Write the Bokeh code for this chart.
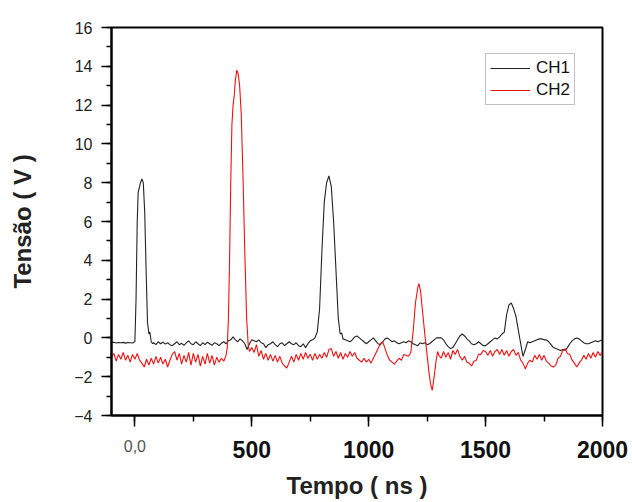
from bokeh.plotting import figure
from bokeh.models import SingleIntervalTicker, Range1d, Legend, LegendItem, LinearAxis
from bokeh.embed import file_html
from bokeh.resources import INLINE

# ---- data ----
ch1_t = [-100, -90, -80, -70, -60, -50, -40, -30, -20, -10,
         0, 5, 10, 14, 18, 24, 30, 36, 42, 48,
         54, 60, 64, 70, 76,
         80, 90, 100, 110, 120, 130, 140, 150, 160, 170,
         180, 190, 200, 210, 220, 230, 240, 250, 260, 270,
         280, 290, 300, 310, 320, 330, 340, 350, 360, 370,
         380, 390, 400, 410, 420, 430, 440, 450, 460, 470,
         480, 490, 500, 510, 520, 530, 540, 550, 560, 570,
         580, 590, 600, 610, 620, 630, 640, 650, 660, 670,
         680, 690, 700, 710, 720, 730, 740, 750, 760, 770,
         780, 790, 800, 810, 820, 830, 840, 850, 860, 870,
         878, 885, 890,
         900, 910, 920, 930, 940, 950, 960, 970, 980, 990,
         1000, 1010, 1020, 1030, 1040, 1050, 1060, 1070, 1080, 1090,
         1100, 1110, 1120, 1130, 1140, 1150, 1160, 1170, 1180, 1190,
         1200, 1210, 1220, 1230, 1240, 1250, 1260, 1270, 1280, 1290,
         1300, 1310, 1320, 1330, 1340, 1350, 1360, 1370, 1380, 1390,
         1400, 1410, 1420, 1430, 1440, 1450, 1460, 1470, 1480, 1490,
         1500, 1510, 1520, 1530, 1540, 1550, 1560, 1570, 1580, 1590,
         1600, 1610, 1620, 1630, 1640, 1650, 1660, 1670, 1680, 1690,
         1700, 1710, 1720, 1730, 1740, 1750, 1760, 1770, 1780, 1790,
         1800, 1810, 1820, 1830, 1840, 1850, 1860, 1870, 1880, 1890,
         1900, 1910, 1920, 1930, 1940, 1950, 1960, 1970, 1980, 1990,
         2000]
ch1_v = [-0.25, -0.22, -0.26, -0.24, -0.25, -0.23, -0.27, -0.24, -0.25, -0.26,
         -0.2, 2.0, 6.0, 7.5, 7.7, 8.0, 8.2, 8.0, 6.5, 3.5,
         0.8, 0.2, 0.3, -0.2, -0.3,
         -0.25, -0.35, -0.2, -0.3, -0.22, -0.32, -0.25, -0.35, -0.4, -0.3,
         -0.2, -0.35, -0.28, -0.38, -0.25, -0.15, -0.3, -0.35, -0.2, -0.3,
         -0.4, -0.25, -0.35, -0.22, -0.3, -0.38, -0.25, -0.3, -0.4, -0.28,
         -0.2, -0.3, -0.15, -0.1, 0.05, -0.1, -0.2, -0.05, -0.15, -0.3,
         -0.6, -0.3, -0.1, -0.15, -0.2, -0.1, -0.25, -0.3, -0.5, -0.35,
         -0.3, -0.2, -0.35, -0.45, -0.3, -0.25, -0.4, -0.3, -0.2, -0.3,
         -0.35, -0.25, -0.4, -0.45, -0.3, -0.5, -0.3, -0.15, -0.1, 0.0,
         0.3, 1.5, 4.5, 7.0, 8.0, 8.35, 7.8, 6.0, 3.5, 1.0,
         0.2, 0.25, -0.05,
         -0.1, -0.15, -0.2, -0.1, 0.05, 0.1, 0.0, -0.1, -0.2, -0.3,
         -0.2, -0.1, 0.0, -0.15, -0.3, -0.35, -0.2, -0.05, 0.0, -0.1,
         -0.2, -0.15, -0.25, -0.3, -0.25, -0.2, -0.25, -0.15, -0.2, -0.3,
         -0.35, -0.4, -0.25, -0.3, -0.25, -0.35, -0.3, -0.2, -0.1, 0.0,
         0.0, 0.0, -0.1, -0.3, -0.45, -0.55, -0.5, -0.3, -0.1, 0.1,
         0.2, 0.1, -0.05, -0.15, -0.3, -0.35, -0.3, -0.2, -0.3, -0.4,
         -0.4, -0.3, -0.2, -0.1, 0.0, -0.05, 0.05, 0.2, 0.3, 1.2,
         1.7, 1.8, 1.5, 1.1, 0.4, -0.3, -0.95, -0.6, -0.2, -0.25,
         -0.2, -0.15, -0.1, -0.05, -0.05, -0.1, -0.1, -0.2, -0.35, -0.5,
         -0.55, -0.6, -0.65, -0.6, -0.65, -0.5, -0.3, -0.15, -0.05, 0.0,
         -0.05, -0.15, -0.25, -0.3, -0.3, -0.25, -0.2, -0.15, -0.2, -0.15,
         -0.1]

ch2_t = [-100, -90, -80, -70, -60, -50, -40, -30, -20, -10,
         0, 10, 20, 30, 40, 50, 60, 70, 80, 90,
         100, 110, 120, 130, 140, 150, 160, 170, 180, 190,
         200, 210, 220, 230, 240, 250, 260, 270, 280, 290,
         300, 310, 320, 330, 340, 350, 360, 370, 380, 390,
         395, 400, 405, 410, 415, 420, 425, 430, 436, 442,
         448, 455, 462, 470, 478, 485, 490,
         500, 510, 520, 530, 540, 550, 560, 570, 580, 590,
         600, 610, 620, 630, 640, 650, 660, 670, 680, 690,
         700, 710, 720, 730, 740, 750, 760, 770, 780, 790,
         800, 810, 820, 830, 840, 850, 860, 870, 880, 890,
         900, 910, 920, 930, 940, 950, 960, 970, 980, 990,
         1000, 1010, 1020, 1030, 1040, 1050, 1060, 1070, 1080, 1090,
         1100, 1110, 1120, 1130, 1140, 1150, 1160, 1170, 1180, 1190,
         1200, 1210, 1215, 1222, 1230, 1240, 1250, 1258, 1265, 1272,
         1280, 1288, 1295,
         1300, 1310, 1320, 1330, 1340, 1350, 1360, 1370, 1380, 1390,
         1400, 1410, 1420, 1430, 1440, 1450, 1460, 1470, 1480, 1490,
         1500, 1510, 1520, 1530, 1540, 1550, 1560, 1570, 1580, 1590,
         1600, 1610, 1620, 1630, 1640, 1650, 1660, 1670, 1680, 1690,
         1700, 1710, 1720, 1730, 1740, 1750, 1760, 1770, 1780, 1790,
         1800, 1810, 1820, 1830, 1840, 1850, 1860, 1870, 1880, 1890,
         1900, 1910, 1920, 1930, 1940, 1950, 1960, 1970, 1980, 1990,
         2000]
ch2_v = [-1.0, -0.8, -1.2, -0.85, -1.1, -0.75, -1.15, -0.9, -1.25, -0.85,
         -1.1, -0.8, -1.15, -1.3, -1.5, -1.1, -1.4, -1.05, -1.35, -0.95,
         -1.3, -1.0, -1.35, -1.1, -1.5, -1.15, -0.85, -0.7, -1.15, -0.8,
         -1.35, -0.9, -1.25, -0.75, -1.4, -0.8, -1.25, -0.85, -1.45, -0.95,
         -1.35, -0.8, -1.3, -0.9, -1.4, -1.0, -1.25, -1.05, -1.2, -0.9,
         -0.5, 1.0, 4.0, 8.0, 11.0, 12.0, 12.5, 13.3, 13.8, 13.6,
         13.0, 11.5, 8.5, 4.5, 1.0, -0.4, -0.7,
         -0.5, -0.75, -0.35, -0.95, -0.65, -1.1, -0.8, -1.15, -0.85, -1.2,
         -0.9, -1.25, -0.95, -1.3, -1.45, -1.55, -1.25, -0.95, -1.25, -0.85,
         -1.15, -0.8, -1.1, -0.75, -1.05, -0.85, -1.15, -0.8, -1.1, -0.85,
         -1.05, -0.75, -1.0, -0.6, -0.55, -0.95, -0.7, -1.05, -0.75, -1.1,
         -0.8, -1.0, -0.7, -0.95, -0.75, -1.05, -1.15, -1.25, -1.05, -1.25,
         -1.1, -1.3, -1.05, -0.8, -0.55, -0.3, -0.2, -0.55, -0.9, -1.15,
         -1.25, -1.35, -1.2, -1.05, -1.15, -0.85, -0.9, -0.95, -0.75, 0.3,
         1.8, 2.6, 2.8, 2.4, 1.4, 0.2, -0.9, -1.8, -2.4, -2.7,
         -2.0, -1.2, -0.7,
         -0.9, -1.05, -0.7, -1.0, -0.75, -1.1, -0.65, -0.85, -0.6, -0.95,
         -1.15, -0.95, -1.25, -1.3, -1.45, -1.2, -1.15, -0.85, -0.85, -0.65,
         -0.7, -0.9, -0.65, -0.95, -0.7, -0.6, -0.85, -0.6, -0.9, -0.65,
         -0.95, -0.7, -0.6, -0.9, -0.75, -1.15, -1.3, -1.6, -1.3, -1.15,
         -1.25, -0.9, -1.1, -0.85, -1.15, -0.9, -1.2, -1.3, -1.45, -1.5,
         -1.4, -1.05, -0.95, -0.65, -0.55, -0.8, -0.85, -1.15, -1.3, -1.5,
         -1.3, -1.15, -0.9, -1.1, -0.8, -1.05, -0.75, -1.0, -0.7, -0.9,
         -0.7]

series_names = ["CH1", "CH2"]
x_title = "Tempo ( ns )"
y_title = "Tensão ( V )"
zero_label = "0,0"

FONT = "Liberation Sans"

p = figure(width=632, height=502, output_backend="svg", toolbar_location=None,
           x_range=Range1d(-100, 2000), y_range=Range1d(-4, 16),
           min_border_left=111, min_border_right=30, min_border_top=27, min_border_bottom=87)
p.background_fill_color = "white"
p.border_fill_color = "white"
p.xgrid.visible = False
p.ygrid.visible = False
p.outline_line_color = "black"
p.outline_line_width = 2

r1 = p.line(ch1_t, ch1_v, line_color="#222222", line_width=1.1)
r2 = p.line(ch2_t, ch2_v, line_color="#ee1111", line_width=1.1)

# first x axis: tick marks and the light "0,0" label
xa = p.xaxis[0]
xa.ticker = SingleIntervalTicker(interval=500, num_minor_ticks=2)
xa.major_label_overrides = {0: zero_label, 500: "", 1000: "", 1500: "", 2000: ""}
xa.axis_line_width = 2
xa.major_tick_in = 0
xa.major_tick_out = 11
xa.minor_tick_in = 0
xa.minor_tick_out = 6
xa.major_tick_line_width = 1.5
xa.minor_tick_line_width = 1.5
xa.major_label_text_font = FONT
xa.major_label_text_font_size = "16px"
xa.major_label_text_color = "#555555"
xa.major_label_standoff = 13

# second x axis: bold labels and title
xb = LinearAxis(ticker=SingleIntervalTicker(interval=500, num_minor_ticks=0))
xb.major_label_overrides = {0: ""}
xb.axis_line_color = None
xb.major_tick_line_color = None
xb.minor_tick_line_color = None
xb.major_tick_in = 0
xb.major_tick_out = 0
xb.minor_tick_in = 0
xb.minor_tick_out = 0
xb.major_label_text_font = FONT
xb.major_label_text_font_size = "23px"
xb.major_label_text_font_style = "bold"
xb.major_label_text_color = "#111111"
xb.major_label_standoff = -14
xb.axis_label = x_title
xb.axis_label_text_font = FONT
xb.axis_label_text_font_size = "24px"
xb.axis_label_text_font_style = "bold"
xb.axis_label_text_color = "#222222"
xb.axis_label_standoff = 11
p.add_layout(xb, "below")

ya = p.yaxis[0]
ya.ticker = SingleIntervalTicker(interval=2, num_minor_ticks=2)
ya.axis_line_width = 2
ya.major_tick_in = 0
ya.major_tick_out = 10
ya.minor_tick_in = 0
ya.minor_tick_out = 5
ya.major_tick_line_width = 1.5
ya.minor_tick_line_width = 1.5
ya.major_label_text_font = FONT
ya.major_label_text_font_size = "16px"
ya.major_label_text_color = "#222222"
ya.major_label_standoff = 9
ya.axis_label = y_title
ya.axis_label_text_font = FONT
ya.axis_label_text_font_size = "24px"
ya.axis_label_text_font_style = "bold"
ya.axis_label_text_color = "#222222"
ya.axis_label_standoff = 35

legend = Legend(items=[LegendItem(label=series_names[0], renderers=[r1]),
                       LegendItem(label=series_names[1], renderers=[r2])],
                location=(374, 310), orientation="vertical",
                glyph_width=40, glyph_height=20, label_height=20, label_standoff=6,
                padding=4, spacing=2, margin=0,
                label_text_font=FONT, label_text_font_size="17px", label_text_color="#111111",
                border_line_color="#888888", border_line_width=1,
                background_fill_color="white", background_fill_alpha=1.0)
p.add_layout(legend)

open("out.html", "w").write(file_html(p, INLINE))
